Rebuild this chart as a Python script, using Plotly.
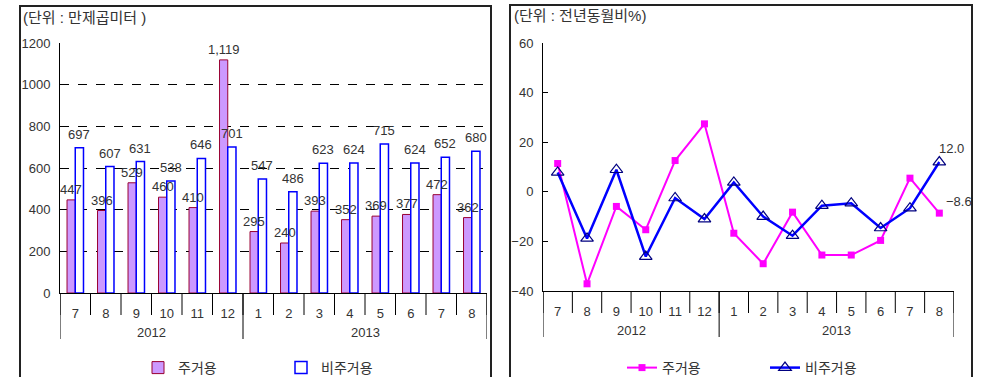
import plotly.graph_objects as go

years = ["2012", "2013"]
year_spans = [(0, 5), (6, 13)]
months = ["7", "8", "9", "10", "11", "12", "1", "2", "3", "4", "5", "6", "7", "8"]

res_area = [447, 396, 529, 460, 410, 1119, 295, 240, 393, 352, 369, 377, 472, 362]
nonres_area = [697, 607, 631, 538, 646, 701, 547, 486, 623, 624, 715, 624, 652, 680]

res_pct = [11.4, -37.1, -5.9, -15.3, 12.6, 27.4, -16.7, -29.0, -8.2, -25.5, -25.5, -19.6, 5.5, -8.6]
nonres_pct = [7.8, -18.8, 8.9, -26.1, -2.5, -11.0, 3.8, -10.0, -17.7, -5.6, -4.6, -14.6, -6.6, 12.0]

FONT = "Liberation Sans, Noto Sans CJK KR, sans-serif"
TXT = "#333333"
W, H = 981, 377
BARGAP = 0.46

def px(x):
    return x / W

def py(y):
    return (H - y) / H

idx = list(range(len(months)))

fig = go.Figure()

fig.add_trace(go.Bar(
    x=idx, y=res_area, name="주거용",
    marker=dict(color="#CC99FF", line=dict(color="#990033", width=1)),
    xaxis="x", yaxis="y", legend="legend",
))
fig.add_trace(go.Bar(
    x=idx, y=nonres_area, name="비주거용",
    marker=dict(color="white", line=dict(color="#0000FF", width=1.5)),
    xaxis="x", yaxis="y", legend="legend",
))

fig.add_trace(go.Scatter(
    x=idx, y=res_pct, name="주거용", mode="lines+markers",
    line=dict(color="#FF00FF", width=2),
    marker=dict(symbol="square", size=7, color="#FF00FF"),
    xaxis="x2", yaxis="y2", legend="legend2", cliponaxis=False,
))
fig.add_trace(go.Scatter(
    x=idx, y=nonres_pct, name="비주거용", mode="lines+markers",
    line=dict(color="#0000FF", width=2.5),
    marker=dict(symbol="triangle-up-open", size=11, color="#000080", line=dict(width=1.2)),
    xaxis="x2", yaxis="y2", legend="legend2", cliponaxis=False,
))

axis_common = dict(
    showline=True, linecolor="black", linewidth=1, automargin=False,
    tickfont=dict(size=13, color=TXT, family=FONT),
)
xcommon = dict(range=[-0.5, len(months) - 0.5], tickmode="array", tickvals=idx,
               ticktext=months, ticks="", showgrid=False, zeroline=False,
               ticklabelstandoff=8, **axis_common)

fig.update_layout(
    width=W, height=H,
    margin=dict(l=0, r=0, t=0, b=0, autoexpand=False),
    paper_bgcolor="white", plot_bgcolor="white",
    font=dict(family=FONT, size=13, color=TXT),
    barmode="group", bargap=BARGAP, bargroupgap=0.0,
    xaxis=dict(domain=[px(60), px(487)], anchor="y", **xcommon),
    yaxis=dict(domain=[py(293), py(43)], anchor="x", range=[0, 1200], dtick=200,
               ticks="inside", ticklen=5, tickcolor="black", ticklabelstandoff=6,
               showgrid=True, gridcolor="black", griddash="dash", gridwidth=1,
               zeroline=False, **axis_common),
    xaxis2=dict(domain=[px(543), px(954)], anchor="y2", **xcommon),
    yaxis2=dict(domain=[py(291), py(43)], anchor="x2", range=[-40, 60], dtick=20,
                ticks="inside", ticklen=5, tickcolor="black", ticklabelstandoff=6,
                showgrid=False, zeroline=False, **axis_common),
    legend=dict(orientation="h", x=px(138), y=py(368), xanchor="left", yanchor="middle",
                entrywidth=98, font=dict(size=14), bgcolor="rgba(0,0,0,0)"),
    legend2=dict(orientation="h", x=px(622), y=py(368), xanchor="left", yanchor="middle",
                 entrywidth=98, font=dict(size=14), bgcolor="rgba(0,0,0,0)"),
    showlegend=True,
)

# value labels on bars (drawn as annotations so they sit above all bars)
off = (1 - BARGAP) / 4
for i in idx:
    fig.add_annotation(text=f"{res_area[i]:,}", xref="x", yref="y", x=i - off, y=res_area[i],
                       yanchor="bottom", yshift=1, showarrow=False,
                       font=dict(size=13, color=TXT))
    fig.add_annotation(text=f"{nonres_area[i]:,}", xref="x", yref="y", x=i + off, y=nonres_area[i],
                       yanchor="bottom", yshift=4, showarrow=False,
                       font=dict(size=13, color=TXT))

# category separators and year labels under both x axes
for xr, ybase in [("x", 293), ("x2", 291)]:
    for b in range(len(months) + 1):
        fig.add_shape(type="line", xref=xr, yref="paper", x0=b - 0.5, x1=b - 0.5,
                      y0=py(ybase), y1=py(ybase + 22), line=dict(color="black", width=1))
    for yr, (a, b) in zip(years, year_spans):
        fig.add_annotation(text=yr, xref=xr, yref="paper", x=(a + b) / 2, y=py(ybase + 39),
                           yanchor="middle", showarrow=False, font=dict(size=13, color=TXT))
    for b in [year_spans[0][0] - 0.5, year_spans[0][1] + 0.5, year_spans[1][1] + 0.5]:
        fig.add_shape(type="line", xref=xr, yref="paper", x0=b, x1=b,
                      y0=py(ybase), y1=py(ybase + 46), line=dict(color="black", width=1))

# panel titles
fig.add_annotation(text="(단위 : 만제곱미터 )", xref="paper", yref="paper",
                   x=px(21), y=py(18), xanchor="left", yanchor="middle",
                   showarrow=False, font=dict(size=15, color=TXT))
fig.add_annotation(text="(단위 : 전년동월비%)", xref="paper", yref="paper",
                   x=px(512), y=py(16), xanchor="left", yanchor="middle",
                   showarrow=False, font=dict(size=15, color=TXT))

# end value labels on the right chart
last = len(months) - 1
fig.add_annotation(text=f"{nonres_pct[-1]:.1f}", xref="x2", yref="y2",
                   x=last, y=nonres_pct[-1], xshift=12, yshift=14,
                   showarrow=False, font=dict(size=13, color=TXT))
fig.add_annotation(text=f"\u2212{abs(res_pct[-1]):.1f}", xref="x2", yref="y2",
                   x=last, y=res_pct[-1], xshift=20, yshift=12,
                   showarrow=False, font=dict(size=13, color=TXT))

# panel borders
for x0, x1, y0 in [(20, 491, 6), (510, 972, 5)]:
    fig.add_shape(type="path", xref="paper", yref="paper",
                  path=f"M {px(x0)},{py(400)} L {px(x0)},{py(y0)} L {px(x1)},{py(y0)} L {px(x1)},{py(400)}",
                  line=dict(color="#222222", width=2))

fig.write_html("out.html", config=dict(displayModeBar=False),
               post_script="document.body.style.margin='0';")
